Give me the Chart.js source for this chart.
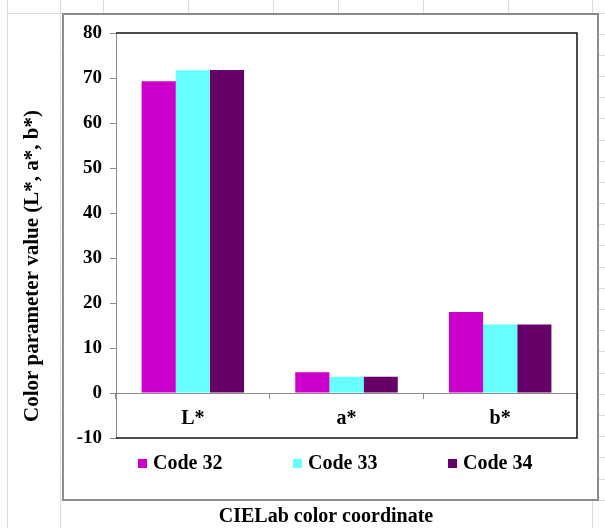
<!DOCTYPE html>
<html>
<head>
<meta charset="utf-8">
<script src="https://cdn.jsdelivr.net/npm/chart.js@4"></script>
<style>
  html, body { margin: 0; padding: 0; background: #fff; }
  canvas { display: block; }
</style>
</head>
<body>
<canvas id="chart" width="605" height="528"></canvas>
<script>
// CIELab coordinates for the three codes
const categories = ['L*', 'a*', 'b*'];
const seriesNames = ['Code 32', 'Code 33', 'Code 34'];
const code32 = [69.3, 4.6, 18.0];
const code33 = [71.7, 3.6, 15.2];
const code34 = [71.8, 3.6, 15.2];
const yTicks = [-10, 0, 10, 20, 30, 40, 50, 60, 70, 80];
const yTitle = 'Color parameter value (L*, a*, b*)';
const xTitle = 'CIELab color coordinate';

const seriesColors = ['#CC00CC', '#66FFFF', '#660066'];
const FONT = "'Liberation Serif', 'Times New Roman', serif";
const AXIS_GRAY = '#8a8a8a';

// Worksheet cells behind the chart object, plus the chart's own frame
const sheetBackground = {
  id: 'sheetBackground',
  beforeDraw(chart) {
    const ctx = chart.ctx;
    const W = chart.width, H = chart.height;
    ctx.save();
    ctx.fillStyle = '#ffffff';
    ctx.fillRect(0, 0, W, H);
    ctx.strokeStyle = '#dcdcdc';
    ctx.lineWidth = 1;
    // column borders
    const outerCols = [7.5, 60.5, 592.5];
    const innerCols = [103.5, 188.5, 273.5, 338.5, 423.5, 508.5];
    ctx.beginPath();
    outerCols.forEach(x => { ctx.moveTo(x, 0); ctx.lineTo(x, H); });
    innerCols.forEach(x => { ctx.moveTo(x, 0); ctx.lineTo(x, 14); });
    // row borders
    ctx.moveTo(7, 13.5); ctx.lineTo(W, 13.5);
    for (let y = 33.5; y < 500; y += 21.2) {
      const yy = Math.round(y) + 0.5;
      ctx.moveTo(60, yy); ctx.lineTo(W, yy);
    }
    ctx.stroke();
    // chart object
    ctx.fillStyle = '#ffffff';
    ctx.fillRect(63, 14, 535, 486);
    ctx.strokeStyle = '#8c8c8c';
    ctx.lineWidth = 2;
    ctx.strokeRect(63, 14, 535, 486);
    ctx.restore();
  }
};

// Plot frame, axis titles and legend
const decorations = {
  id: 'decorations',
  afterDraw(chart) {
    const ctx = chart.ctx;
    const a = chart.chartArea;
    ctx.save();
    // plot area frame (left side is the value axis line)
    ctx.strokeStyle = '#111111';
    ctx.lineWidth = 1.5;
    ctx.beginPath();
    ctx.moveTo(a.left, a.top);
    ctx.lineTo(a.right, a.top);
    ctx.lineTo(a.right, a.bottom);
    ctx.lineTo(a.left, a.bottom);
    ctx.stroke();

    ctx.fillStyle = '#000000';
    // value axis title
    ctx.font = 'bold 21px ' + FONT;
    ctx.textAlign = 'center';
    ctx.textBaseline = 'middle';
    ctx.translate(33, 266);
    ctx.rotate(-Math.PI / 2);
    ctx.fillText(yTitle, 0, 0);
    ctx.setTransform(1, 0, 0, 1, 0, 0);

    // category axis title
    ctx.font = 'bold 20px ' + FONT;
    ctx.fillText(xTitle, 326, 517);

    // legend
    ctx.font = 'bold 20px ' + FONT;
    ctx.textAlign = 'left';
    const starts = [138, 293, 448];
    chart.data.datasets.forEach((ds, i) => {
      const x = starts[i];
      ctx.fillStyle = ds.backgroundColor;
      ctx.fillRect(x, 459, 9, 9);
      ctx.fillStyle = '#000000';
      ctx.fillText(ds.label, x + 15, 464);
    });
    ctx.restore();
  }
};

new Chart(document.getElementById('chart'), {
  type: 'bar',
  data: {
    labels: categories,
    datasets: [
      { label: seriesNames[0], data: code32, backgroundColor: seriesColors[0] },
      { label: seriesNames[1], data: code33, backgroundColor: seriesColors[1] },
      { label: seriesNames[2], data: code34, backgroundColor: seriesColors[2] }
    ]
  },
  options: {
    responsive: false,
    animation: false,
    devicePixelRatio: 1,
    layout: { padding: { left: 0, right: 28, top: 33, bottom: 90 } },
    datasets: {
      bar: { categoryPercentage: 0.667, barPercentage: 1.0, borderWidth: 0 }
    },
    plugins: {
      legend: { display: false },
      tooltip: { enabled: false }
    },
    scales: {
      x: {
        type: 'category',
        position: { y: 0 },
        afterFit(scale) { scale.height = 0; },
        grid: {
          offset: true,
          drawOnChartArea: false,
          drawTicks: true,
          tickLength: 5,
          color: AXIS_GRAY
        },
        border: { display: true, color: AXIS_GRAY, width: 1 },
        ticks: {
          autoSkip: false,
          maxRotation: 0,
          padding: 9,
          color: '#000000',
          font: { family: FONT, size: 20, weight: 'bold' }
        }
      },
      y: {
        min: -10,
        max: 80,
        afterFit(scale) { scale.width = 116; },
        afterBuildTicks(scale) { scale.ticks = yTicks.map(v => ({ value: v })); },
        grid: {
          drawOnChartArea: false,
          drawTicks: true,
          tickLength: 6,
          color: AXIS_GRAY
        },
        border: { display: true, color: AXIS_GRAY, width: 1 },
        ticks: {
          padding: 8,
          color: '#000000',
          font: { family: FONT, size: 19, weight: 'bold' }
        }
      }
    }
  },
  plugins: [sheetBackground, decorations]
});
</script>
</body>
</html>
